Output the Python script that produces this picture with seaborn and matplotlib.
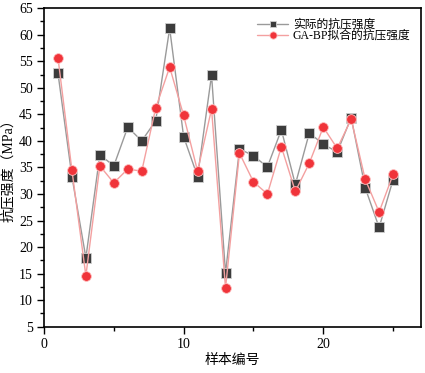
import matplotlib
matplotlib.use("Agg")
import matplotlib.pyplot as plt
import seaborn as sns
import pandas as pd
from matplotlib.ticker import MultipleLocator

sample = list(range(1, 26))
actual = [52.8, 33.3, 18.0, 37.4, 35.3, 42.6, 40.0, 43.8, 61.2, 40.8, 33.3, 52.4, 15.1,
          38.5, 37.2, 35.1, 42.1, 31.8, 41.5, 39.4, 37.9, 44.4, 31.2, 23.7, 32.7]
gabp = [55.7, 34.5, 14.6, 35.3, 32.1, 34.7, 34.3, 46.2, 53.9, 44.8, 34.3, 46.0, 12.3,
        37.7, 32.3, 30.0, 38.9, 30.5, 35.8, 42.6, 38.6, 44.1, 32.8, 26.6, 33.7]
labels = ["实际的抗压强度", "GA-BP拟合的抗压强度"]

sns.set_style("ticks")
plt.rcParams['font.family'] = ['Liberation Serif', 'Noto Sans CJK SC', 'DejaVu Sans']
plt.rcParams['text.color'] = 'black'
plt.rcParams['axes.labelcolor'] = 'black'

fig = plt.figure(figsize=(4.25, 3.73), dpi=100)
ax = fig.add_axes([0.1035, 0.124, 0.8871, 0.854])

df = pd.DataFrame({"x": sample, "a": actual, "g": gabp})
sns.lineplot(data=df, x="x", y="a", ax=ax, color="#9a9a9a", lw=1.0,
             marker="s", markersize=6.5, markerfacecolor="#3c3c3c",
             markeredgecolor="#d0d0d0", markeredgewidth=0.6, label=labels[0])
sns.lineplot(data=df, x="x", y="g", ax=ax, color="#f4a0a0", lw=1.0,
             marker="o", markersize=7, markerfacecolor="#f0343a",
             markeredgecolor="#ffc0c0", markeredgewidth=0.6, label=labels[1])

ax.set_xlim(0, 27)
ax.set_ylim(5, 65)
ax.xaxis.set_major_locator(MultipleLocator(10))
ax.xaxis.set_minor_locator(MultipleLocator(5))
ax.yaxis.set_major_locator(MultipleLocator(5))
ax.yaxis.set_minor_locator(MultipleLocator(2.5))
ax.tick_params(which="major", direction="out", length=5, width=1, labelsize=10,
               colors="black", pad=3)
ax.tick_params(which="minor", direction="out", length=3, width=1, colors="black")
for s in ax.spines.values():
    s.set_visible(True)
    s.set_linewidth(1.2)
    s.set_color("black")

ax.set_xlabel("样本编号", fontsize=10, labelpad=2)
ax.set_ylabel("抗压强度（MPa）", fontsize=10, labelpad=3)

leg = ax.legend(loc="upper right", frameon=False, fontsize=8.5, handlelength=2.6,
                markerscale=0.75, borderaxespad=0.5, labelspacing=-0.1,
                handletextpad=0.4)

fig.savefig("out.png", dpi=100)
